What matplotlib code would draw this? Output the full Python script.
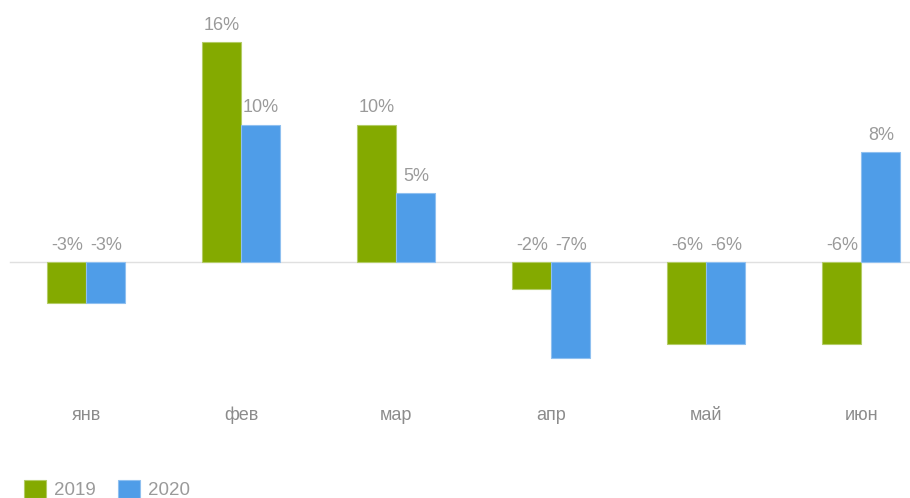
import numpy as np
import matplotlib.pyplot as plt
from matplotlib.transforms import blended_transform_factory

plt.rcParams['font.family'] = ['Liberation Sans', 'DejaVu Sans']

months = ['янв', 'фев', 'мар', 'апр', 'май', 'июн']
v2019 = [-3, 16, 10, -2, -6, -6]
v2020 = [-3, 10, 5, -7, -6, 8]

green = '#84aa00'
blue = '#4f9de8'
grey = '#9a9a9a'

fig = plt.figure(figsize=(9.1, 4.98), dpi=100)
ax = fig.add_axes([0, 0, 1, 1])
ax.axis('off')

x = np.arange(len(months))
w = 0.252
b1 = ax.bar(x - w / 2, v2019, w, color=green, edgecolor='#b3cc66', linewidth=0.8, label='2019', zorder=2)
b2 = ax.bar(x + w / 2, v2020, w, color=blue, edgecolor='#8fc0f0', linewidth=0.8, label='2020', zorder=2)

ax.set_xlim(-0.5565, 5.3139)
ax.set_ylim(-17.164, 19.055)
ax.axhline(0, xmin=10 / 910, xmax=1, color='#e0e0e0', linewidth=1, zorder=1)

for bars, vals in [(b1, v2019), (b2, v2020)]:
    for r, v in zip(bars, vals):
        cx = r.get_x() + r.get_width() / 2
        ax.annotate(f'{v}%', (cx, max(v, 0)), xytext=(0, 9), textcoords='offset points',
                    ha='center', va='baseline', fontsize=13, color=grey)

tr = blended_transform_factory(ax.transData, ax.transAxes)
for i, m in enumerate(months):
    ax.text(i, 1 - 415 / 498, m, transform=tr, ha='center', va='center', fontsize=13, color='#8c8c8c')

fig.legend(handles=[b1, b2], loc='upper left', bbox_to_anchor=(24 / 910, 1 - 480 / 498),
           frameon=False, ncol=2, fontsize=13.5, borderpad=0, borderaxespad=0,
           handlelength=1.15, handleheight=1.1, handletextpad=0.45, columnspacing=1.2,
           labelcolor=grey)

fig.savefig('out.png', dpi=100)
